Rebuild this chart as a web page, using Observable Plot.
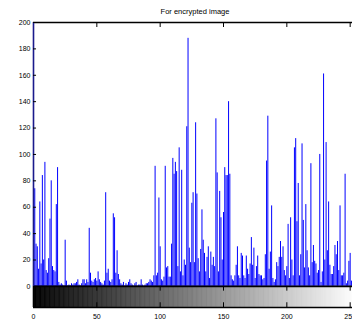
<!DOCTYPE html>
<html>
<head>
<meta charset="utf-8">
<script src="https://cdn.jsdelivr.net/npm/d3@7"></script>
<script src="https://cdn.jsdelivr.net/npm/@observablehq/plot@0.6"></script>
<style>
  html, body { margin: 0; padding: 0; background: #fff; }
  #wrap { width: 352px; height: 320px; overflow: hidden; }
  #wrap svg { max-width: none !important; width: 359px; height: 320px; }
</style>
</head>
<body>
<div id="wrap"></div>
<script>
const title = "For encrypted image";
// histogram counts for gray levels 0..255
const counts = [
  230, 74, 32, 30, 13, 64, 17, 84, 20, 94,   // 0-9
  12, 10, 21, 51, 80, 15, 12, 11, 62, 90,    // 10-19
  3, 1, 2, 1, 0, 35, 4, 0, 1, 0,             // 20-29
  2, 1, 2, 2, 3, 5, 1, 0, 2, 5,              // 30-39
  5, 2, 5, 3, 44, 10, 4, 3, 5, 6,            // 40-49
  4, 11, 5, 3, 2, 1, 4, 71, 10, 13,          // 50-59
  4, 3, 5, 55, 52, 10, 27, 9, 5, 2,          // 60-69
  1, 3, 0, 2, 1, 3, 5, 2, 1, 0,              // 70-79
  2, 3, 0, 1, 1, 5, 1, 0, 1, 2,              // 80-89
  2, 3, 5, 4, 3, 8, 91, 8, 10, 67,           // 90-99
  30, 5, 4, 7, 91, 14, 15, 7, 7, 32,         // 100-109
  97, 85, 94, 87, 15, 105, 11, 88, 8, 20,    // 110-119
  16, 121, 188, 29, 18, 63, 71, 18, 124, 70, // 120-129
  21, 11, 28, 58, 35, 25, 11, 22, 30, 6,     // 130-139
  26, 16, 22, 15, 127, 86, 11, 72, 52, 20,   // 140-149
  56, 90, 84, 84, 140, 85, 8, 5, 4, 8,       // 150-159
  16, 30, 8, 6, 25, 23, 8, 6, 23, 13,        // 160-169
  9, 17, 37, 16, 29, 6, 15, 23, 9, 8,        // 170-179
  8, 5, 6, 24, 95, 129, 13, 26, 61, 6,       // 180-189
  3, 5, 18, 15, 22, 34, 22, 30, 12, 8,       // 190-199
  15, 47, 6, 52, 20, 8, 105, 112, 49, 78,    // 200-209
  8, 24, 108, 50, 14, 62, 27, 14, 8, 93,     // 210-219
  18, 31, 19, 17, 10, 12, 100, 3, 11, 161,   // 220-229
  20, 109, 27, 64, 16, 9, 9, 15, 31, 24,     // 230-239
  34, 12, 61, 8, 8, 10, 85, 2, 4, 19,        // 240-249
  25, 4, 10, 6, 12, 8                        // 250-255
];
const xTicks = [0, 50, 100, 150, 200, 250];
const yTicks = [0, 20, 40, 60, 80, 100, 120, 140, 160, 180, 200];

const bins = counts.map((v, i) => ({level: i, count: v}));
const font = "'Liberation Sans Narrow', 'Liberation Sans', Arial, sans-serif";

const chart = Plot.plot({
  width: 359,
  height: 320,
  marginLeft: 33,
  marginRight: 3,
  marginTop: 22,
  marginBottom: 13,
  x: {domain: [0, 255], axis: null},
  y: {domain: [-16, 200], axis: null},
  style: {fontFamily: font, background: "#fff", maxWidth: "none"},
  marks: [
    // grayscale colour bar
    Plot.rect(bins, {
      x1: d => d.level - 0.5, x2: d => d.level + 0.5, y1: -16, y2: 0,
      fill: d => d3.rgb(d.level, d.level, d.level).formatHex(),
      stroke: d => d3.rgb(d.level, d.level, d.level).formatHex(),
      strokeWidth: 0.6, clip: true
    }),
    // stems
    Plot.ruleX(bins, {x: "level", y1: 0, y2: "count", stroke: "#0000ff", strokeWidth: 1, clip: true}),
    // frame lines
    Plot.ruleY([200], {stroke: "#000", strokeWidth: 1.6}),
    Plot.ruleY([0], {stroke: "#000", strokeWidth: 1.6}),
    Plot.ruleY([-16], {stroke: "#000", strokeWidth: 1.6}),
    Plot.ruleX([0], {y1: -16, y2: 0, stroke: "#000", strokeWidth: 1.6}),
    Plot.ruleX([0], {y1: 0, y2: 200, stroke: "#1a1a8c", strokeWidth: 1.6}),
    // ticks
    Plot.ruleX(xTicks.filter(d => d > 0), {x: d => d, y1: 200, y2: 196.2, stroke: "#000"}),
    Plot.ruleX(xTicks.filter(d => d > 0), {x: d => d, y1: 0, y2: -3.6, stroke: "#000"}),
    Plot.ruleX(xTicks.filter(d => d > 0), {x: d => d, y1: -16, y2: -12.4, stroke: "#000"}),
    Plot.ruleY(yTicks, {y: d => d, x1: 0, x2: 2.4, stroke: "#000"}),
    // tick labels
    Plot.text(yTicks, {x: 0, y: d => d, text: d => String(d), textAnchor: "end", dx: -3, fontSize: 7, fill: "#000"}),
    Plot.text(xTicks, {x: d => d, y: -16, text: d => String(d), dy: 9, fontSize: 7, fill: "#000"}),
    // title
    Plot.text([title], {x: 127.5, y: 200, text: d => d, dy: -11, fontSize: 7.5, fill: "#000"})
  ]
});
document.getElementById("wrap").appendChild(chart);
</script>
</body>
</html>
